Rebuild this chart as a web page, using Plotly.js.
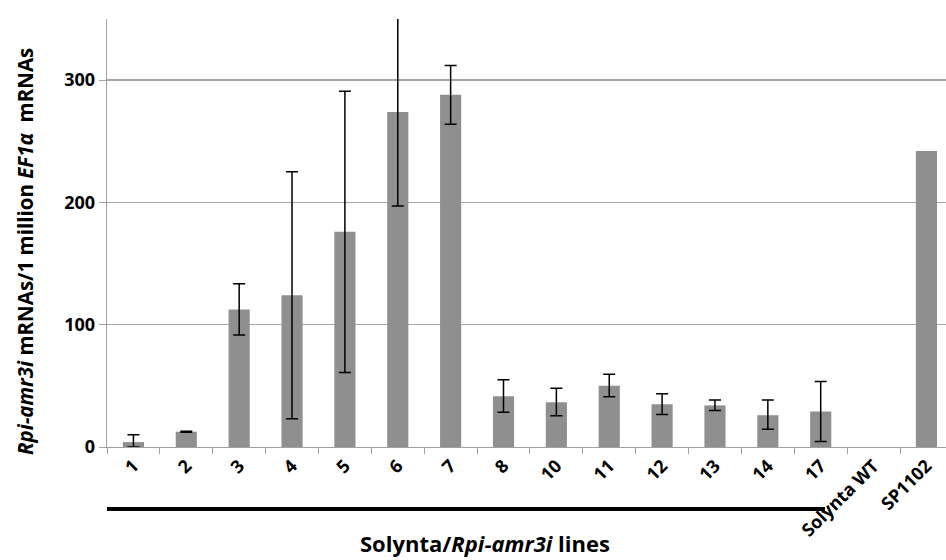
<!DOCTYPE html>
<html>
<head>
<meta charset="utf-8">
<script src="https://cdn.plot.ly/plotly-3.0.1.min.js"></script>
<style>html,body{margin:0;padding:0;background:#fff;}#chart{width:946px;height:560px;}</style>
</head>
<body>
<div id="chart"></div>
<script>
const categories = ['1','2','3','4','5','6','7','8','10','11','12','13','14','17','Solynta WT','SP1102'];
const values     = [4, 12.5, 112.5, 124, 176, 274, 288, 41.5, 36.5, 50, 35, 34, 26, 29, 0, 242];
// error bars exist only for the 14 transgenic lines
const errPlus    = [6, 0.4, 21, 101, 115, 77, 24, 13.5, 11.5, 9.5, 8.5, 4.5, 12.5, 24.5];
const errMinus   = [4, 0.4, 21, 101, 115, 77, 24, 13, 11, 9, 8.5, 4.2, 11.5, 24.5];
const yTicks     = [0, 100, 200, 300];

const trace = {
  type: 'bar',
  x: categories,
  y: values,
  marker: {color: '#8f8f8f', line: {width: 0}},
  error_y: {
    type: 'data', symmetric: false,
    array: errPlus, arrayminus: errMinus,
    color: '#000000', thickness: 1.5, width: 6, visible: true
  }
};

const tickFont = {family: 'Open Sans, sans-serif', size: 18, color: '#000', weight: 'bold'};

const layout = {
  width: 946, height: 560,
  margin: {l: 107, r: 0, t: 19, b: 113, pad: 0},
  showlegend: false,
  bargap: 0.6,
  xaxis: {
    type: 'category',
    range: [-0.5, 15.37],
    tickson: 'boundaries',
    ticks: 'outside', ticklen: 6, tickwidth: 1, tickcolor: '#a0a0a0',
    showline: true, linecolor: '#a0a0a0', linewidth: 1.3,
    showgrid: false, zeroline: false,
    tickangle: -45,
    tickfont: tickFont
  },
  yaxis: {
    range: [0, 350],
    tickvals: yTicks,
    ticktext: yTicks.map(String),
    ticks: 'outside', ticklen: 7, tickwidth: 1, tickcolor: '#a0a0a0',
    showline: true, linecolor: '#a0a0a0', linewidth: 1.3,
    showgrid: true, gridcolor: '#a6a6a6', gridwidth: 1.3,
    zeroline: false,
    tickfont: tickFont
  }
};

const groupLine = {
  type: 'line', xref: 'x', yref: 'paper',
  x0: -0.52, x1: 13.08, y0: -0.145, y1: -0.145,
  line: {color: '#000', width: 4}
};
const yTitle = {
  text: '<i>Rpi-amr3i</i> mRNAs/1 million <i>EF1α</i>&nbsp; mRNAs',
  xref: 'paper', yref: 'paper', x: -0.0975, y: 0.456,
  xanchor: 'center', yanchor: 'middle', textangle: -90, showarrow: false,
  font: {family: 'Open Sans, sans-serif', size: 20.5, color: '#000', weight: 'bold'}
};
const xTitle = {
  text: 'Solynta/<i>Rpi-amr3i</i> lines',
  xref: 'paper', yref: 'paper', x: 0.4505, y: -0.2236,
  xanchor: 'center', yanchor: 'middle', showarrow: false,
  font: {family: 'Open Sans, sans-serif', size: 22, color: '#000', weight: 'bold'}
};

Plotly.newPlot('chart', [trace], layout, {displayModeBar: false, staticPlot: true})
  .then(gd => Plotly.relayout(gd, {
    'shapes[0]': groupLine,
    'annotations[0]': yTitle,
    'annotations[1]': xTitle
  }))
  .then(gd => {
    const t = gd.querySelector('.xtick text');
    if (t && !/rotate/.test(t.getAttribute('transform') || '')) {
      return Plotly.relayout(gd, {'xaxis.tickangle': -45});
    }
  });
</script>
</body>
</html>
